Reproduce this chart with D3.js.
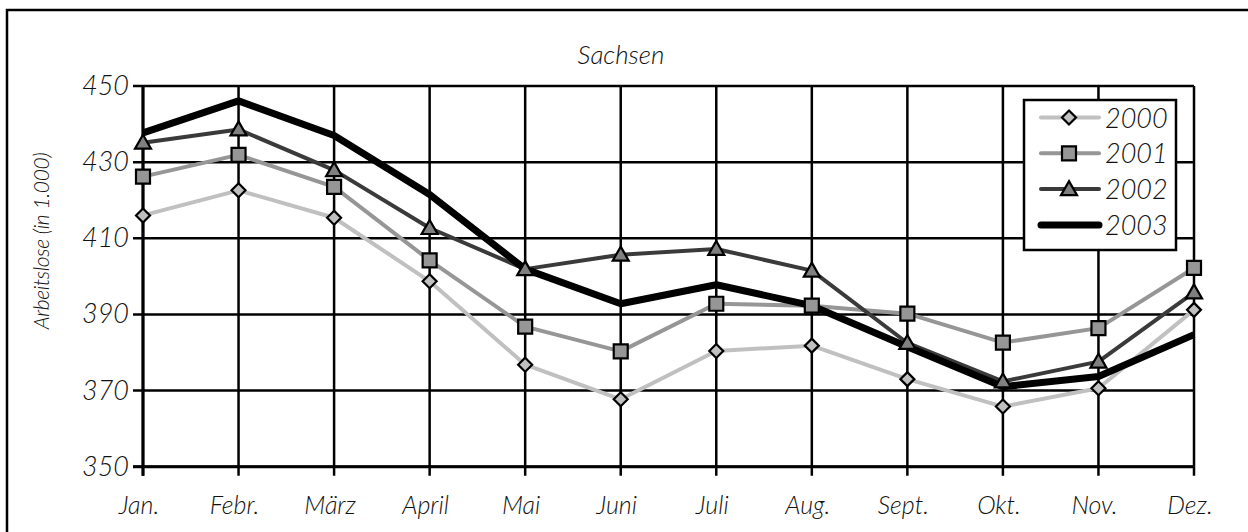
<!DOCTYPE html>
<html><head><meta charset="utf-8">
<script src="https://cdn.jsdelivr.net/npm/d3@7"></script>
<style>
html,body{margin:0;padding:0;background:#fff;}
text{font-family:"Lato","Open Sans",sans-serif;font-style:italic;font-weight:300;fill:#111;}
</style></head>
<body><svg id="c" width="1248" height="532"></svg>
<script>
const months = ["Jan.","Febr.","März","April","Mai","Juni","Juli","Aug.","Sept.","Okt.","Nov.","Dez."];
const yTicks = [350,370,390,410,430,450];
const years = ["2000","2001","2002","2003"];
const v2000 = [416.0,422.6,415.4,398.7,376.8,367.7,380.4,381.8,373.0,365.8,370.6,391.2];
const v2001 = [426.2,431.9,423.5,404.2,386.8,380.3,392.8,392.3,390.2,382.6,386.4,402.2];
const v2002 = [435.1,438.6,427.9,412.7,401.9,405.7,407.2,401.5,382.5,372.4,377.6,395.8];
const v2003 = [437.7,446.1,437.0,421.5,401.9,392.8,397.8,392.3,381.5,371.0,373.7,384.7];
const title = "Sachsen";
const yTitle = "Arbeitslose (in 1.000)";

const series = [
  {name:years[0], values:v2000, color:"#c0c0c0", width:4, marker:"diamond", fill:"#c0c0c0"},
  {name:years[1], values:v2001, color:"#969696", width:4, marker:"square", fill:"#969696"},
  {name:years[2], values:v2002, color:"#3a3a3a", width:4, marker:"triangle", fill:"#808080"},
  {name:years[3], values:v2003, color:"#000000", width:7, marker:null}
];

const svg = d3.select("#c");
const L=143, R=1194, T=86, B=466.7;
const x = d3.scalePoint().domain(months).range([L,R]);
const y = d3.scaleLinear().domain([350,450]).range([B,T]);

svg.append("rect").attr("x",7).attr("y",10).attr("width",1260).attr("height",540)
  .attr("fill","none").attr("stroke","#000").attr("stroke-width",2.5);

svg.append("text").attr("x",621).attr("y",64).attr("text-anchor","middle")
  .style("font-size","26px").text(title);

const g = svg.append("g");
g.selectAll(".hg").data(yTicks).join("line")
  .attr("x1",L-10).attr("x2",R).attr("y1",d=>y(d)).attr("y2",d=>y(d))
  .attr("stroke","#000").attr("stroke-width",2.5);
g.selectAll(".vg").data(months).join("line")
  .attr("x1",d=>x(d)).attr("x2",d=>x(d)).attr("y1",T).attr("y2",B+9)
  .attr("stroke","#000").attr("stroke-width",2.5);
g.append("line").attr("x1",L).attr("x2",L).attr("y1",T).attr("y2",B+9).attr("stroke","#000").attr("stroke-width",3);
g.append("line").attr("x1",L-10).attr("x2",R).attr("y1",B).attr("y2",B).attr("stroke","#000").attr("stroke-width",3);

svg.selectAll(".yl").data(yTicks).join("text")
  .attr("x",L-14).attr("y",d=>y(d)+9).attr("text-anchor","end")
  .style("font-size","27px").text(d=>d);
svg.selectAll(".xl").data(months).join("text")
  .attr("x",d=>x(d)-4).attr("y",514).attr("text-anchor","middle")
  .style("font-size","25px").text(d=>d);
svg.append("text").attr("transform","translate(49,241) rotate(-90)")
  .attr("text-anchor","middle").style("font-size","21px").style("letter-spacing","-0.3px").text(yTitle);

const line = d3.line().x((d,i)=>x(months[i])).y(d=>y(d));
function drawMarker(sel, m, cx, cy){
  if(!m) return;
  let p;
  if(m==="diamond"){
    const r=7;
    p = `M0,${-r}L${r},0L0,${r}L${-r},0Z`;
  } else if(m==="square"){
    const r=7;
    p = `M${-r},${-r}H${r}V${r}H${-r}Z`;
  } else {
    const r=8;
    p = `M0,${-r}L${r},${r*0.75}L${-r},${r*0.75}Z`;
  }
  sel.append("path").attr("d",p).attr("transform",`translate(${cx},${cy})`)
    .attr("stroke","#000").attr("stroke-width",2.2).attr("stroke-linejoin","miter");
}
series.forEach(s=>{
  svg.append("path").datum(s.values).attr("d",line).attr("fill","none")
    .attr("stroke",s.color).attr("stroke-width",s.width).attr("stroke-linejoin","round");
});
series.forEach(s=>{
  if(!s.marker) return;
  const mg = svg.append("g").attr("fill",s.fill);
  s.values.forEach((v,i)=>drawMarker(mg,s.marker,x(months[i]),y(v)));
});

const lg = svg.append("g");
lg.append("rect").attr("x",1024).attr("y",100).attr("width",152).attr("height",150)
  .attr("fill","#fff").attr("stroke","#000").attr("stroke-width",2.5);
series.forEach((s,i)=>{
  const cy = 117.5 + i*35.8;
  lg.append("line").attr("x1",1041).attr("x2",1099).attr("y1",cy).attr("y2",cy)
    .attr("stroke",s.color).attr("stroke-width",s.width).attr("stroke-linecap","round");
  const mg = lg.append("g").attr("fill",s.fill);
  drawMarker(mg,s.marker,1069,cy);
  lg.append("text").attr("x",1105).attr("y",cy+10).style("font-size","27px").text(s.name);
});
</script></body></html>
